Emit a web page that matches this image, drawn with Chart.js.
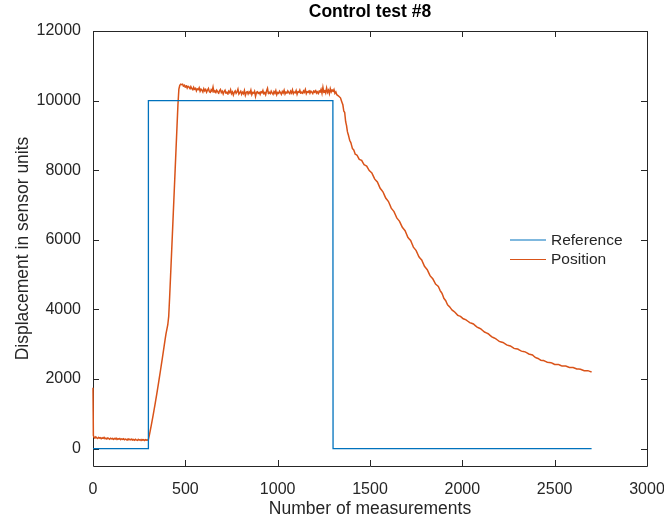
<!DOCTYPE html>
<html>
<head>
<meta charset="utf-8">
<title>Control test #8</title>
<script src="https://cdn.jsdelivr.net/npm/chart.js@4.4.1/dist/chart.umd.min.js"></script>
<style>
  html, body { margin: 0; padding: 0; background: #fff; }
  #wrap { width: 664px; height: 520px; }
</style>
</head>
<body>
<div id="wrap"><canvas id="c" width="664" height="520"></canvas></div>
<script>
// Labels
const chartTitle = 'Control test #8';
const xLabel = 'Number of measurements';
const yLabel = 'Displacement in sensor units';
const seriesNames = ['Reference', 'Position'];

// Axis ticks
const xTicks = [0, 500, 1000, 1500, 2000, 2500, 3000];
const yTicks = [0, 2000, 4000, 6000, 8000, 10000, 12000];

// Reference step command
const refX = [0, 299, 300, 1299, 1300, 2700];
const refY = [0, 0, 10000, 10000, 0, 0];

// Measured position: idle phase before the step
const idleX = [
  0, 2, 5, 10, 15, 20, 25, 30, 35, 40, 45, 50, 55, 60, 65, 70, 75, 80, 85, 90, 95, 100,
  105, 110, 115, 120, 125, 130, 135, 140, 145, 150, 155, 160, 165, 170, 175, 180, 185, 190,
  195, 200, 205, 210, 215, 220, 225, 230, 235, 240, 245, 250, 255, 260, 265, 270, 275, 280,
  285, 290, 295, 299
];
const idleY = [
  1750, 380, 330, 300, 335, 310, 290, 325, 300, 315, 280, 310, 295, 320, 285, 300, 275, 305, 290, 270, 300, 280,
  295, 265, 290, 275, 300, 262, 285, 270, 290, 258, 280, 265, 285, 255, 275, 262, 245, 278,
  255, 270, 250, 272, 245, 262, 240, 268, 250, 235, 265, 245, 258, 235, 262, 242, 255, 232,
  258, 240, 250, 238
];

// Measured position: rise towards the setpoint
const riseX = [305, 315, 325, 335, 345, 355, 365, 375, 385, 395, 405, 410, 415, 420, 425, 430,
  435, 440, 445, 450, 455, 460, 465, 470, 475, 480];
const riseY = [380, 650, 940, 1240, 1560, 1890, 2230, 2580, 2940, 3290, 3560, 3800, 4350, 4950, 5560, 6170,
  6790, 7410, 8030, 8650, 9270, 9880, 10330, 10440, 10470, 10460];

// Measured position: holding at the setpoint
const holdX = [
  485, 490, 495, 500, 505, 510, 515, 520, 525, 530, 535, 540, 545, 550, 555, 560, 565, 570, 575, 580,
  585, 590, 595, 600, 605, 610, 615, 620, 625, 630, 635, 640, 645, 650, 655, 660, 665, 670, 675, 680,
  685, 690, 695, 700, 705, 710, 715, 720, 725, 730, 735, 740, 745, 750, 755, 760, 765, 770, 775, 780,
  785, 790, 795, 800, 805, 810, 815, 820, 825, 830, 835, 840, 845, 850, 855, 860, 865, 870, 875, 880,
  885, 890, 895, 900, 905, 910, 915, 920, 925, 930, 935, 940, 945, 950, 955, 960, 965, 970, 975, 980,
  985, 990, 995, 1000, 1005, 1010, 1015, 1020, 1025, 1030, 1035, 1040, 1045, 1050, 1055, 1060, 1065,
  1070, 1075, 1080, 1085, 1090, 1095, 1100, 1105, 1110, 1115, 1120, 1125, 1130, 1135, 1140, 1145,
  1150, 1155, 1160, 1165, 1170, 1175, 1180, 1185, 1190, 1195, 1200, 1205, 1210, 1215, 1220, 1225,
  1230, 1235, 1240, 1245, 1250, 1255, 1260, 1265, 1270, 1275, 1280, 1285, 1290, 1295, 1300, 1305,
  1310, 1315, 1320
];
const holdY = [
  10470, 10410, 10450, 10380, 10430, 10360, 10410, 10390, 10330, 10400, 10350, 10300, 10380, 10320, 10360, 10280, 10340, 10310, 10370, 10270,
  10330, 10300, 10250, 10340, 10280, 10320, 10240, 10300, 10350, 10260, 10230, 10310, 10270, 10390, 10240, 10290, 10220, 10300, 10260, 10200,
  10280, 10320, 10230, 10270, 10190, 10260, 10300, 10210, 10250, 10180, 10270, 10230, 10310, 10200, 10250, 10160, 10240, 10280, 10210, 10250,
  10330, 10190, 10230, 10270, 10180, 10240, 10200, 10290, 10150, 10230, 10260, 10190, 10250, 10210, 10300, 10170, 10240, 10210, 10270, 10120,
  10230, 10260, 10200, 10240, 10180, 10260, 10220, 10290, 10190, 10240, 10170, 10280, 10350, 10200, 10250, 10190, 10270, 10220, 10180, 10260,
  10210, 10290, 10170, 10240, 10200, 10270, 10230, 10180, 10260, 10220, 10300, 10190, 10250, 10210, 10280, 10240, 10190,
  10270, 10220, 10310, 10200, 10250, 10220, 10290, 10180, 10260, 10230, 10300, 10210, 10250, 10200, 10280, 10240,
  10320, 10200, 10260, 10230, 10290, 10210, 10270, 10240, 10200, 10280, 10230, 10300, 10220, 10260, 10190,
  10280, 10240, 10320, 10210, 10380, 10230, 10290, 10220, 10360, 10240, 10300, 10200, 10340, 10250, 10310, 10260, 10320,
  10210, 10250, 10170
];

// Measured position: decay after the step is released
const decayX = [
  1330, 1340, 1347, 1353, 1358, 1363, 1368, 1373, 1378, 1383, 1390, 1397, 1405, 1412, 1420,
  1430, 1442, 1455, 1468, 1482, 1496, 1510, 1525, 1540, 1555, 1570, 1585, 1600, 1615, 1630,
  1645, 1660, 1675, 1690, 1705, 1720, 1735, 1750, 1765, 1780, 1795, 1810, 1825, 1840, 1855,
  1870, 1880, 1890, 1900, 1910, 1920, 1930, 1945, 1960, 1975, 1990, 2005, 2020, 2040, 2060,
  2080, 2100, 2120, 2140, 2160, 2180, 2200, 2220, 2240, 2260, 2280, 2300, 2320, 2340, 2360,
  2380, 2395, 2410, 2425, 2440, 2460, 2480, 2500, 2520, 2540, 2560, 2580, 2600, 2620, 2640,
  2660, 2680, 2700
];
const decayY = [
  10130, 10080, 9970, 9880, 9700, 9660, 9400, 9280, 9100, 9010, 8860, 8780, 8620, 8580, 8460,
  8430, 8310, 8280, 8160, 8120, 7990, 7920, 7750, 7660, 7480, 7380, 7200, 7100, 6910, 6810,
  6630, 6530, 6360, 6260, 6070, 5980, 5790, 5690, 5510, 5420, 5240, 5140, 4970, 4880, 4730,
  4660, 4540, 4460, 4320, 4250, 4130, 4080, 3980, 3920, 3830, 3800, 3730, 3700, 3620, 3580,
  3490, 3440, 3350, 3300, 3210, 3160, 3080, 3050, 2980, 2950, 2880, 2860, 2800, 2780, 2720,
  2690, 2620, 2590, 2540, 2530, 2480, 2470, 2420, 2420, 2370, 2370, 2330, 2330, 2290, 2280,
  2240, 2240, 2200
];

const BLUE = '#0072BD';
const ORANGE = '#D95319';
const INK = '#262626';
const FONT = "'Liberation Sans', Arial, Helvetica, sans-serif";

const posX = idleX.concat(riseX, holdX, decayX);
const posY = idleY.concat(riseY, holdY, decayY);
const toPoints = (xs, ys) => xs.map((x, i) => ({ x: x, y: ys[i] }));

// Box around the axes with inward ticks on all four sides (drawn under the data),
// then the titles and the legend on top
const matlabFrame = {
  id: 'matlabFrame',
  beforeDatasetsDraw(chart) {
    const { ctx, chartArea: a, scales } = chart;
    const tl = 6;
    ctx.save();
    ctx.strokeStyle = INK;
    ctx.lineWidth = 1;
    ctx.beginPath();
    ctx.rect(Math.round(a.left) + 0.5, Math.round(a.top) + 0.5,
             Math.round(a.right - a.left), Math.round(a.bottom - a.top));
    ctx.stroke();
    ctx.beginPath();
    xTicks.forEach(v => {
      const px = Math.round(scales.x.getPixelForValue(v)) + 0.5;
      ctx.moveTo(px, a.bottom); ctx.lineTo(px, a.bottom - tl);
      ctx.moveTo(px, a.top); ctx.lineTo(px, a.top + tl);
    });
    yTicks.forEach(v => {
      const py = Math.round(scales.y.getPixelForValue(v)) + 0.5;
      ctx.moveTo(a.left, py); ctx.lineTo(a.left + tl, py);
      ctx.moveTo(a.right, py); ctx.lineTo(a.right - tl, py);
    });
    ctx.stroke();
    ctx.restore();
  },
  afterDraw(chart) {
    const { ctx, chartArea: a } = chart;
    const cx = (a.left + a.right) / 2;
    const cy = (a.top + a.bottom) / 2;
    ctx.save();
    ctx.fillStyle = '#000';
    ctx.textAlign = 'center';
    ctx.textBaseline = 'middle';
    ctx.font = 'bold 17.5px ' + FONT;
    ctx.fillText(chartTitle, cx, 12);

    ctx.fillStyle = INK;
    ctx.font = '17.5px ' + FONT;
    ctx.fillText(xLabel, cx, 509);
    ctx.save();
    ctx.translate(23, cy);
    ctx.rotate(-Math.PI / 2);
    ctx.fillText(yLabel, 0, 0);
    ctx.restore();

    // legend
    ctx.font = '15.5px ' + FONT;
    ctx.textAlign = 'left';
    chart.data.datasets.forEach((ds, i) => {
      const y = 240 + i * 19.5;
      ctx.strokeStyle = ds.borderColor;
      ctx.lineWidth = 1.2;
      ctx.beginPath();
      ctx.moveTo(510, y); ctx.lineTo(546, y);
      ctx.stroke();
      ctx.fillStyle = INK;
      ctx.fillText(ds.label, 551, y + 0.5);
    });
    ctx.restore();
  }
};

new Chart(document.getElementById('c'), {
  type: 'scatter',
  data: {
    datasets: [
      {
        label: seriesNames[0],
        data: toPoints(refX, refY),
        showLine: true,
        borderColor: BLUE,
        backgroundColor: BLUE,
        borderWidth: 1.3,
        pointRadius: 0,
        tension: 0
      },
      {
        label: seriesNames[1],
        data: toPoints(posX, posY),
        showLine: true,
        borderColor: ORANGE,
        backgroundColor: ORANGE,
        borderWidth: 1.5,
        pointRadius: 0,
        // a near-zero tension keeps straight segments but draws every sample
        tension: 0.0001,
        clip: 2
      }
    ]
  },
  options: {
    responsive: false,
    animation: false,
    events: [],
    layout: { padding: { top: 31, right: 17, bottom: 0, left: 0 } },
    plugins: {
      legend: { display: false },
      title: { display: false },
      tooltip: { enabled: false }
    },
    scales: {
      x: {
        type: 'linear',
        min: 0,
        max: 3000,
        grid: { display: false },
        border: { display: false },
        afterBuildTicks: s => { s.ticks = xTicks.map(v => ({ value: v })); },
        afterFit: s => { s.height = 54; s.paddingLeft = 0; s.paddingRight = 0; },
        ticks: {
          padding: 6,
          color: INK,
          maxRotation: 0,
          font: { family: FONT, size: 16 },
          callback: v => String(v)
        }
      },
      y: {
        type: 'linear',
        min: -500,
        max: 12000,
        grid: { display: false },
        border: { display: false },
        afterBuildTicks: s => { s.ticks = yTicks.map(v => ({ value: v })); },
        afterFit: s => { s.width = 93; s.paddingTop = 0; s.paddingBottom = 0; },
        ticks: {
          padding: 4,
          color: INK,
          font: { family: FONT, size: 16 },
          callback: v => String(v)
        }
      }
    }
  },
  plugins: [matlabFrame]
});
</script>
</body>
</html>
